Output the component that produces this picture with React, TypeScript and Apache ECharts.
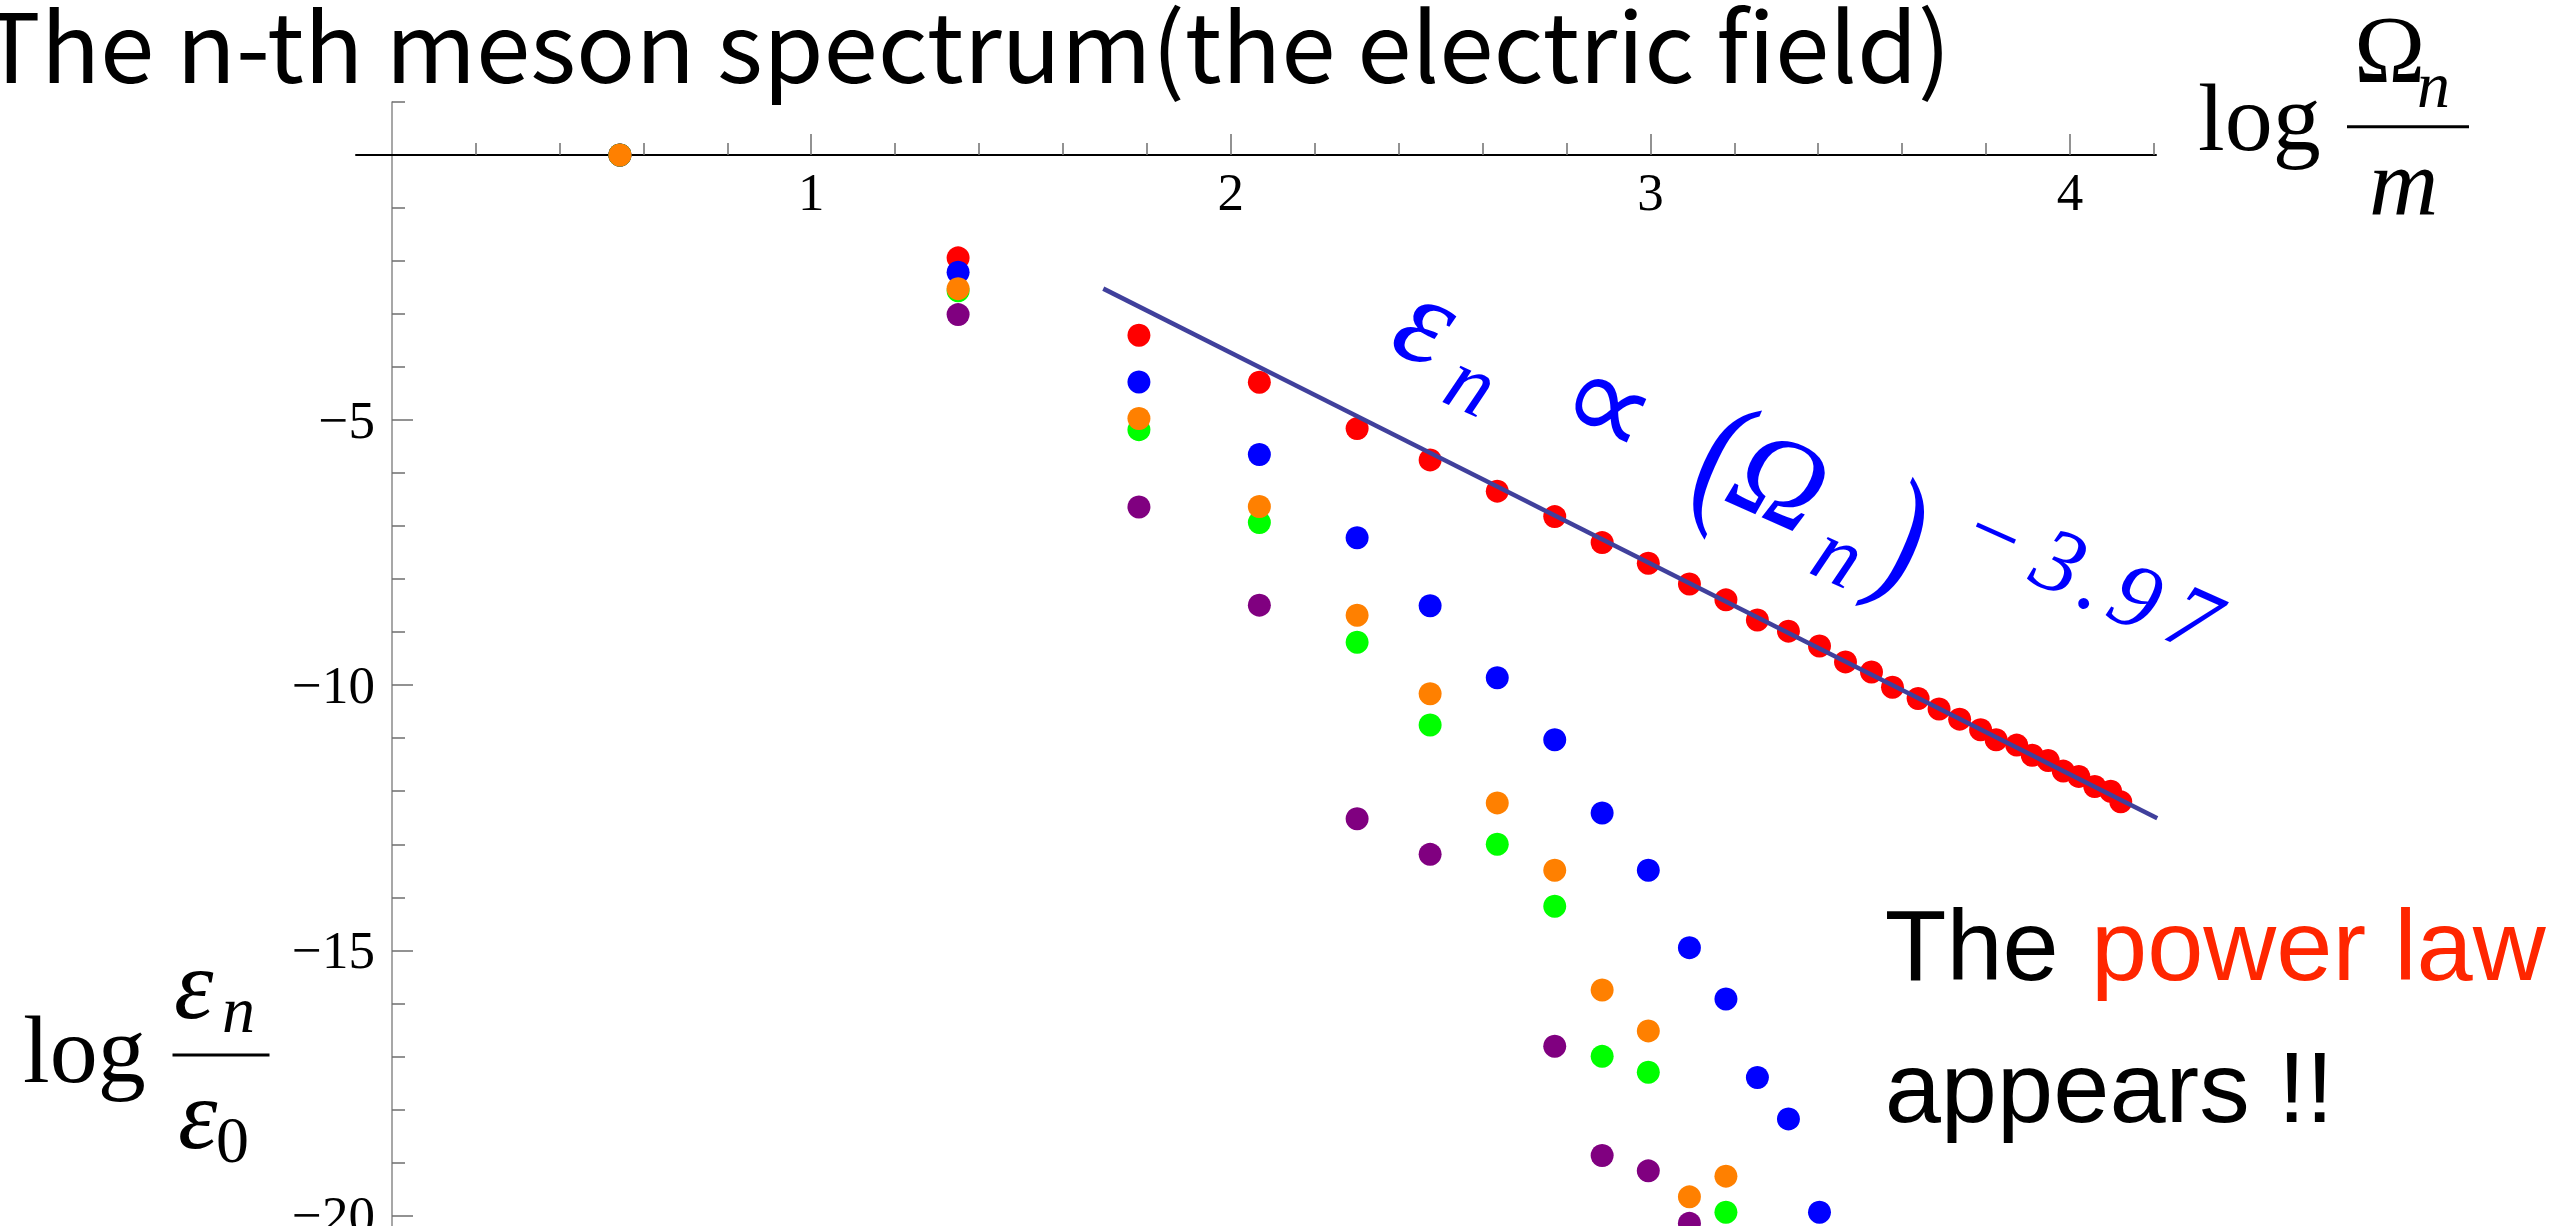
import React, { useEffect, useRef } from "react";
import * as echarts from "echarts";

// ---- data ----
const logOmega = [0.544, 1.35, 1.781, 2.068, 2.301, 2.475, 2.635, 2.772, 2.885, 2.995, 3.093, 3.18, 3.255, 3.329, 3.403, 3.465, 3.527, 3.577, 3.638, 3.688, 3.737, 3.787, 3.824, 3.873, 3.91, 3.948, 3.984, 4.021, 4.059, 4.097, 4.121];
const redLogE = [0, -1.94, -3.4, -4.285, -5.16, -5.75, -6.34, -6.82, -7.31, -7.7, -8.09, -8.39, -8.77, -8.98, -9.26, -9.56, -9.75, -10.04, -10.25, -10.45, -10.64, -10.84, -11.03, -11.13, -11.32, -11.42, -11.62, -11.72, -11.91, -12.0, -12.2];
const blueLogE = [0, -2.21, -4.28, -5.65, -7.22, -8.5, -9.86, -11.03, -12.41, -13.49, -14.95, -15.92, -17.4, -18.18, -19.94];
const orangeLogE = [0, -2.52, -4.97, -6.63, -8.68, -10.16, -12.22, -13.49, -15.75, -16.52, -19.65, -19.26];
const greenLogE = [0, -2.56, -5.18, -6.93, -9.19, -10.75, -13.0, -14.17, -17.0, -17.3, null, -19.94];
const purpleLogE = [0, -3.01, -6.64, -8.49, -12.52, -13.19, null, -16.81, -18.87, -19.16, -20.15];
const fitLogOmega = [1.696, 4.208];
const fitLogE = [-2.52, -12.51];

const xMajorTicks = [1, 2, 3, 4];
const xMinorTicks = [0.2, 0.4, 0.6, 0.8, 1.2, 1.4, 1.6, 1.8, 2.2, 2.4, 2.6, 2.8, 3.2, 3.4, 3.6, 3.8, 4.2];
const yMajorTicks = [-5, -10, -15, -20];
const yMinorTicks = [1, -1, -2, -3, -4, -6, -7, -8, -9, -11, -12, -13, -14, -16, -17, -18, -19];

const titleText = "The n-th meson spectrum(the electric field)";

// ---- styling ----
const SERIF = '"Liberation Serif", "Times New Roman", serif';
const SANS = '"Liberation Sans", Arial, sans-serif';
const TITLE_FONT = '"Noto Sans CJK JP", "Noto Sans", sans-serif';
const K_SERIF = 0.3375;
const K_SANS = 0.3465;
const K_CJK = 0.38;

function measure(text: string, font: string): number {
  const c = document.createElement("canvas").getContext("2d");
  if (!c) return 1;
  c.font = font;
  return c.measureText(text).width || 1;
}

type LOpts = { family?: string; k?: number; italic?: boolean; color?: string; align?: string; scaleX?: number };
function txt(text: string, x: number, baseline: number, size: number, o: LOpts = {}) {
  const family = o.family ?? SERIF;
  const k = o.k ?? K_SERIF;
  const align = o.align ?? "left";
  return {
    type: "text",
    x,
    y: baseline - k * size,
    scaleX: o.scaleX ?? 1,
    silent: true,
    style: {
      text,
      fontSize: size,
      lineHeight: size,
      fontFamily: family,
      fontStyle: o.italic ? "italic" : "normal",
      fill: o.color ?? "#000",
      align,
      verticalAlign: "middle",
      textAlign: align,
      textVerticalAlign: "middle",
    },
  };
}

function pairs(ys: (number | null)[]) {
  const out: number[][] = [];
  ys.forEach((v, i) => {
    if (v !== null && v !== undefined) out.push([logOmega[i], v]);
  });
  return out;
}

export default function App() {
  const ref = useRef<HTMLDivElement>(null);
  useEffect(() => {
    if (!ref.current) return;
    const chart = echarts.init(ref.current, undefined, { renderer: "svg" });

    const titleSize = 96;
    const titleLeft = -18;
    const titleW = measure(titleText, `${titleSize}px ${TITLE_FONT}`);
    const titleScale = (1951 - titleLeft) / titleW;

    const X_MIN = -0.085;
    const X_MAX = 4.205;
    const Y_MIN = -20.2;
    const Y_MAX = 1;
    const NB = { outerBoundsMode: "none" };
    // data area
    const dataBox = { left: 356, right: 408, top: 102, bottom: 0, ...NB };
    // strip whose bottom edge is the line y = 0 (pixel 155)
    const xStrip = { left: 356, right: 408, top: 102, bottom: 1071, ...NB };
    // strip whose left edge is the line x = 0 (pixel 392)
    const yStrip = { left: 392, right: 2072, top: 102, bottom: 0, ...NB };
    const tickGray = "#6e6e6e";
    const blue = "#0000ff";
    const fm = (t: string, a: number, base: number, size: number, italic = true, sx = 1) =>
      txt(t, a, base, size, { italic, color: blue, align: "center", scaleX: sx });

    const dot = (name: string, color: string, ys: (number | null)[]) => ({
      type: "scatter",
      name,
      xAxisIndex: 0,
      yAxisIndex: 0,
      symbolSize: 23,
      itemStyle: { color, opacity: 1 },
      data: pairs(ys),
    });

    const hiddenX = (gridIndex: number, min: number, max: number) => ({ type: "value", gridIndex, min, max, show: false, splitLine: { show: false } });
    const hiddenY = (gridIndex: number, min: number, max: number) => ({ type: "value", gridIndex, min, max, show: false, splitLine: { show: false } });

    const option: any = {
      animation: false,
      backgroundColor: "#ffffff",
      grid: [dataBox, { ...xStrip }, { ...xStrip }, { ...yStrip }, { ...yStrip }],
      xAxis: [
        hiddenX(0, X_MIN, X_MAX),
        {
          type: "value",
          gridIndex: 1,
          position: "bottom",
          min: X_MIN,
          max: X_MAX,
          axisLine: { show: true, onZero: false, lineStyle: { color: "#000", width: 2 } },
          axisTick: { show: true, inside: true, length: 21, customValues: xMajorTicks, lineStyle: { color: tickGray, width: 1.5 } },
          axisLabel: { show: true, customValues: xMajorTicks, margin: 10, fontFamily: SERIF, fontSize: 53, color: "#000" },
          splitLine: { show: false },
        },
        {
          type: "value",
          gridIndex: 2,
          position: "bottom",
          min: X_MIN,
          max: X_MAX,
          axisLine: { show: false, onZero: false },
          axisTick: { show: true, inside: true, length: 12, customValues: xMinorTicks, lineStyle: { color: tickGray, width: 1.5 } },
          axisLabel: { show: false },
          splitLine: { show: false },
        },
        hiddenX(3, 0, 1),
        hiddenX(4, 0, 1),
      ],
      yAxis: [
        hiddenY(0, Y_MIN, Y_MAX),
        hiddenY(1, 0, 1),
        hiddenY(2, 0, 1),
        {
          type: "value",
          gridIndex: 3,
          position: "left",
          min: Y_MIN,
          max: Y_MAX,
          axisLine: { show: true, onZero: false, lineStyle: { color: "#8a8a8a", width: 1.5 } },
          axisTick: { show: true, inside: true, length: 21, customValues: yMajorTicks, lineStyle: { color: tickGray, width: 1.5 } },
          axisLabel: {
            show: true,
            customValues: yMajorTicks,
            margin: 17,
            padding: [0, 0, 13, 0],
            fontFamily: SERIF,
            fontSize: 53,
            color: "#000",
            formatter: (v: number) => "\u2212" + Math.abs(v),
          },
          splitLine: { show: false },
        },
        {
          type: "value",
          gridIndex: 4,
          position: "left",
          min: Y_MIN,
          max: Y_MAX,
          axisLine: { show: false, onZero: false },
          axisTick: { show: true, inside: true, length: 13, customValues: yMinorTicks, lineStyle: { color: tickGray, width: 1.5 } },
          axisLabel: { show: false },
          splitLine: { show: false },
        },
      ],
      series: [
        dot("purple", "#800080", purpleLogE),
        dot("red", "#ff0000", redLogE),
        dot("blue", "#0000ff", blueLogE),
        dot("green", "#00ff00", greenLogE),
        dot("orange", "#ff8000", orangeLogE),
        {
          type: "line",
          name: "fit",
          xAxisIndex: 0,
          yAxisIndex: 0,
          symbol: "none",
          z: 5,
          lineStyle: { color: "#40409c", width: 4.5 },
          data: fitLogOmega.map((x, i) => [x, fitLogE[i]]),
        },
      ],
      graphic: [
        // title
        txt(titleText, titleLeft, 78, titleSize, { family: TITLE_FONT, k: K_CJK, scaleX: titleScale }),
        // x-axis label: log Ω_n / m
        txt("log", 2198, 150, 96),
        txt("\u03A9", 2354, 82, 96),
        txt("n", 2417, 107, 66, { italic: true }),
        { type: "line", silent: true, shape: { x1: 2347, y1: 126.8, x2: 2469, y2: 126.8 }, style: { stroke: "#000", lineWidth: 3 } },
        txt("m", 2369, 215, 96, { italic: true }),
        // y-axis label: log ε_n / ε_0
        txt("log", 23, 1081.7, 96),
        txt("\u03B5", 174, 1018, 100, { italic: true }),
        txt("n", 222, 1032, 66, { italic: true }),
        { type: "line", silent: true, shape: { x1: 172.5, y1: 1055, x2: 269.5, y2: 1055 }, style: { stroke: "#000", lineWidth: 3 } },
        txt("\u03B5", 178, 1148, 100, { italic: true }),
        txt("0", 216, 1162, 66),
        // annotation
        txt("The ", 1884.7, 980, 101, { family: SANS, k: K_SANS }),
        txt("power law", 2091, 980, 101, { family: SANS, k: K_SANS, color: "#ff2600" }),
        txt("appears !!", 1884.7, 1121.7, 101, { family: SANS, k: K_SANS }),
        // rotated formula  ε_n ∝ (Ω_n)^-3.97
        {
          type: "group",
          x: 1422,
          y: 332,
          rotation: (-24 * Math.PI) / 180,
          silent: true,
          children: [
            fm("\u03B5", 0, 30, 128),
            fm("n", 66, 56, 88),
            fm("\u221D", 200, 32, 128, false),
            fm("(", 326, 42, 156, false, 0.8),
            fm("\u03A9", 387, 31, 124),
            fm("n", 471, 63, 88),
            fm(")", 524, 41, 156, false, 0.8),
            fm("\u2212", 606, -20, 90, false),
            fm("3", 676, -19, 92),
            fm(".", 717, -17, 92),
            fm("9", 760, -18, 92),
            fm("7", 821, -21, 92),
          ],
        },
      ],
    };

    chart.setOption(option);
    return () => chart.dispose();
  }, []);

  return (
    <div
      ref={ref}
      style={{ position: "fixed", left: 0, top: 0, width: 2564, height: 1226, background: "#fff" }}
    />
  );
}
